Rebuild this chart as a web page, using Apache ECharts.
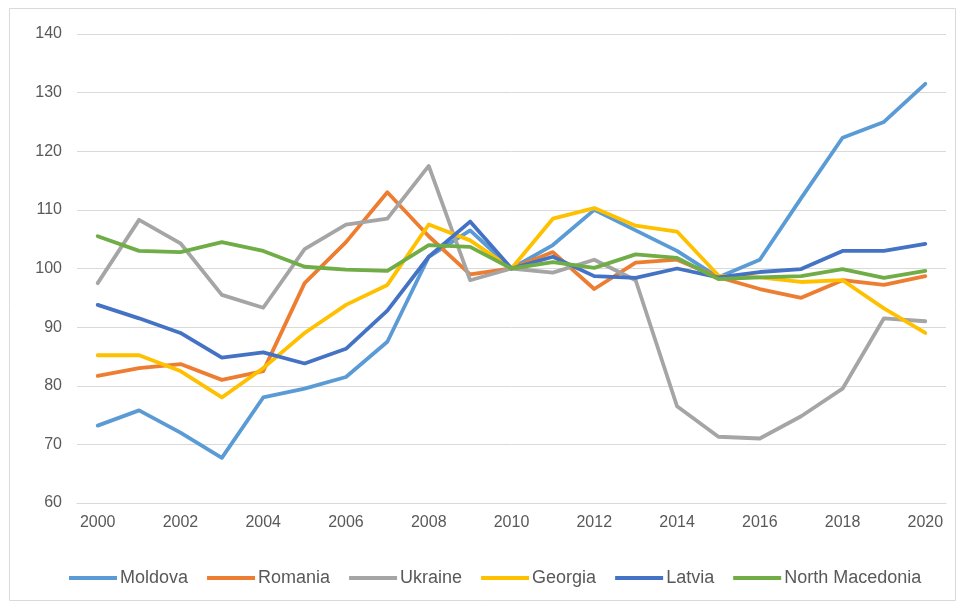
<!DOCTYPE html>
<html>
<head>
<meta charset="utf-8">
<script src="https://cdn.jsdelivr.net/npm/echarts@6/dist/echarts.min.js"></script>
<style>
  html, body { margin: 0; padding: 0; background: #fff; }
  #chart { width: 964px; height: 606px; }
</style>
</head>
<body>
<div id="chart"></div>
<script>
// years on the category axis
const years = ['2000', '2001', '2002', '2003', '2004', '2005', '2006', '2007', '2008', '2009', '2010',
  '2011', '2012', '2013', '2014', '2015', '2016', '2017', '2018', '2019', '2020']

// index values (2010 = 100)
const moldova = [73.2, 75.8, 72, 67.7, 78, 79.5, 81.5, 87.5, 102, 106.5, 100,
  104, 110, 106.5, 103, 98.5, 101.5, 112, 122.3, 125, 131.5]
const romania = [81.7, 83, 83.7, 81, 82.5, 97.5, 104.5, 113, 105.5, 99, 100,
  102.8, 96.5, 101, 101.5, 98.5, 96.5, 95, 98, 97.2, 98.7]
const ukraine = [97.5, 108.3, 104.3, 95.5, 93.3, 103.3, 107.5, 108.5, 117.5, 98, 100,
  99.3, 101.5, 98, 76.5, 71.3, 71, 74.8, 79.5, 91.5, 91]
const georgia = [85.2, 85.2, 82.5, 78, 83, 89, 93.8, 97.2, 107.5, 104.8, 100,
  108.5, 110.3, 107.3, 106.3, 98.8, 98.5, 97.7, 98, 93.2, 89]
const latvia = [93.8, 91.5, 89, 84.8, 85.7, 83.8, 86.3, 92.8, 102, 108, 100,
  102, 98.7, 98.4, 100, 98.5, 99.4, 99.9, 103, 103, 104.2]
const northMacedonia = [105.5, 103, 102.8, 104.5, 103, 100.3, 99.8, 99.6, 104, 103.7, 100,
  101.1, 100.1, 102.4, 101.8, 98.2, 98.5, 98.7, 99.9, 98.4, 99.6]

const seriesNames = ['Moldova', 'Romania', 'Ukraine', 'Georgia', 'Latvia', 'North Macedonia']
const seriesData = [moldova, romania, ukraine, georgia, latvia, northMacedonia]
const colors = ['#5B9BD5', '#ED7D31', '#A5A5A5', '#FFC000', '#4472C4', '#70AD47']

let myChart = echarts.init(document.getElementById('chart'))
let textColor = '#595959'
let font = 'Liberation Sans, Arial, sans-serif'

let option = {
  animation: false,
  color: colors,
  graphic: [{
    type: 'rect',
    shape: { x: 9.5, y: 8.5, width: 946, height: 592 },
    style: { fill: 'none', stroke: '#d9d9d9', lineWidth: 1 },
    silent: true
  }],
  legend: {
    data: seriesNames,
    bottom: 14,
    left: 64,
    icon: 'rect',
    itemWidth: 48,
    itemHeight: 4,
    itemGap: 19,
    textStyle: { color: textColor, fontSize: 18, fontFamily: font, padding: [0, 0, 0, -2] }
  },
  grid: {
    left: 77,
    right: 18,
    top: 34,
    bottom: 103
  },
  xAxis: {
    type: 'category',
    data: years,
    boundaryGap: true,
    axisLine: { lineStyle: { color: '#d9d9d9', width: 1 } },
    axisTick: { show: false },
    axisLabel: { interval: 1, color: textColor, fontSize: 16, fontFamily: font, margin: 12 }
  },
  yAxis: {
    type: 'value',
    min: 60,
    max: 140,
    interval: 10,
    axisLine: { show: false },
    axisTick: { show: false },
    splitLine: { lineStyle: { color: '#d9d9d9', width: 1 } },
    axisLabel: { color: textColor, fontSize: 16, fontFamily: font, margin: 15 }
  },
  series: seriesNames.map((name, i) => ({
    name: name,
    type: 'line',
    data: seriesData[i],
    showSymbol: false,
    symbol: 'none',
    lineStyle: { width: 3.8, color: colors[i], cap: 'round', join: 'round' }
  }))
}
myChart.setOption(option)
</script>
</body>
</html>
